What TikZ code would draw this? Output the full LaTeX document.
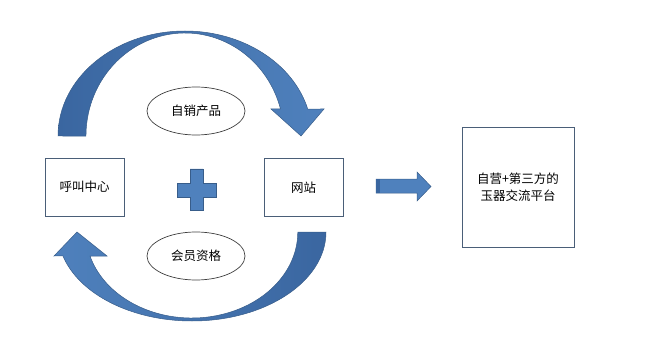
\documentclass[tikz,border=0pt]{standalone}
\usepackage{fontspec}
\setmainfont{Noto Sans CJK SC}
\usetikzlibrary{positioning,shapes.geometric}
\definecolor{officeblue}{HTML}{4F81BD}
\definecolor{darkblue}{HTML}{3A66A0}
\definecolor{edgeblue}{HTML}{385D8A}
\definecolor{boxedge}{HTML}{4A5E78}
\begin{document}
\begin{tikzpicture}[x=1pt,y=-1pt,
  box/.style={draw=boxedge, line width=0.9pt, minimum width=79pt, minimum height=58pt, inner sep=2pt},
  oval/.style={draw=black!75, ellipse, line width=0.7pt, minimum width=98pt, minimum height=48pt},
  bluearrow/.style={draw=edgeblue, line width=0.5pt},
  font=\fontsize{12.5}{17}\selectfont]
\useasboundingbox (0,0) rectangle (656,350);
% boxes and labels
\node[box] (call) at (84.5,187) {呼叫中心};
\node[box] (web) at (303.5,187.5) {网站};
\node[box, minimum width=112pt, minimum height=120pt, align=center] (platform) at (518,187) {自营+第三方的\\玉器交流平台};
\node[oval] (sale) at (196,111) {自销产品};
\node[oval] (member) at (196,256) {会员资格};
% top curved arrow
\shade[bluearrow, left color=darkblue, right color=officeblue]
  (58,136) arc[start angle=180, end angle=345.1, x radius=127, y radius=105]
  -- (324,109) -- (301,136) -- (271,109) -- (280.5,109)
  arc[start angle=344.8, end angle=180, x radius=99, y radius=103] -- cycle;
% bottom curved arrow
\shade[bluearrow, left color=officeblue, right color=darkblue]
  (326,232) arc[start angle=0, end angle=164.4, x radius=134, y radius=89]
  -- (54,256) -- (77,232) -- (107,256) -- (90,256)
  arc[start angle=163.8, end angle=0, x radius=106, y radius=86] -- cycle;
% plus sign
\filldraw[bluearrow, fill=officeblue] (190,169) -- (203,169) -- (203,183) -- (216,183) -- (216,197)
  -- (203,197) -- (203,210) -- (190,210) -- (190,197) -- (177,197) -- (177,183) -- (190,183) -- cycle;
% arrow to platform
\filldraw[bluearrow, fill=officeblue] (376,179) -- (417,179) -- (417,172) -- (431,186.5)
  -- (417,201) -- (417,193) -- (376,193) -- cycle;
\fill[darkblue] (376.3,179.3) rectangle (380,192.7);
\end{tikzpicture}
\end{document}
